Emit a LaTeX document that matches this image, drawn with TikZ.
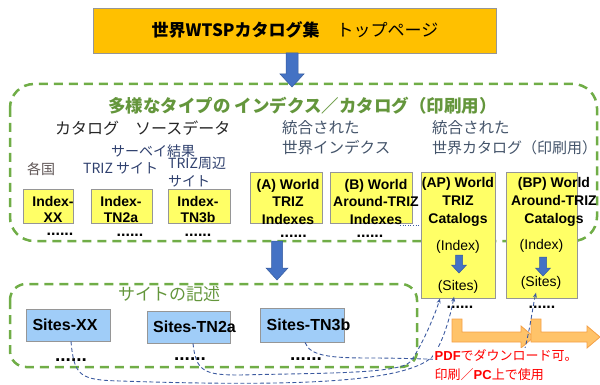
\documentclass[tikz,border=0pt]{standalone}
\usepackage{fontspec}
\setmainfont{Liberation Sans}
\newfontfamily\jp{Noto Sans CJK JP}
\usetikzlibrary{arrows.meta}
\definecolor{topor}{RGB}{255,192,0}
\definecolor{yellowc}{RGB}{255,255,102}
\definecolor{bluebox}{RGB}{160,205,248}
\definecolor{boxgray}{RGB}{150,150,150}
\definecolor{gframe}{RGB}{112,173,71}
\definecolor{gtext}{RGB}{100,150,60}
\definecolor{arrowblue}{RGB}{68,114,196}
\definecolor{linkblue}{RGB}{60,90,160}
\definecolor{navy}{RGB}{47,64,110}
\definecolor{slate}{RGB}{68,84,106}
\definecolor{graybr}{RGB}{95,85,85}
\definecolor{orfill}{RGB}{255,195,105}
\definecolor{ordraw}{RGB}{245,160,70}
\definecolor{redt}{RGB}{255,0,0}
\newcommand\blkarrow[6]{%
  \filldraw[fill=arrowblue, draw=arrowblue!80!black, line width=0.5pt]
  (#1-#4,#2) -- (#1+#4,#2) -- (#1+#4,#3-#6) -- (#1+#5,#3-#6) -- (#1,#3)
  -- (#1-#5,#3-#6) -- (#1-#4,#3-#6) -- cycle;}
\begin{document}
\begin{tikzpicture}[x=1pt,y=-1pt,
  jpf/.style={font={\jp\fontsize{#1}{#1}\selectfont}, inner sep=0pt},
  topbox/.style={draw=boxgray, fill=topor, line width=0.8pt, inner sep=0pt},
  ybox/.style={draw=boxgray, fill=yellowc, line width=0.8pt, inner sep=0pt},
  bbox/.style={draw=boxgray, fill=bluebox, line width=0.8pt, inner sep=0pt},
  btxt/.style={font={\bfseries\fontsize{14}{#1}\selectfont}, align=center, inner sep=0pt},
  stxt/.style={font={\bfseries\fontsize{16}{18}\selectfont}, inner sep=0pt},
  ntxt/.style={font={\fontsize{14}{16}\selectfont}, inner sep=0pt},
  dots/.style={font={\bfseries\fontsize{#1}{#1}\selectfont}, inner sep=0pt, anchor=base,
    text height=3pt, text depth=0pt},
  gdash/.style={draw=gframe, line width=2.5pt, dash pattern=on 9pt off 6pt},
  link/.style={draw=linkblue, line width=0.9pt, dash pattern=on 4pt off 2.5pt},
  linkarrow/.style={link, -{Stealth[length=5pt,width=4pt]}},
  orarrow/.style={fill=orfill, draw=ordraw, line width=0.8pt}
]
\useasboundingbox (0,0) rectangle (600,385);

% frames
\draw[gdash, rounded corners=24pt] (10,84) rectangle (597,241);
\draw[gdash, rounded corners=16pt] (10,284) rectangle (417,367);

% top box
\node[topbox, minimum width=403, minimum height=45] (top) at (294.5,30.5) {};
\node[jpf=17, anchor=base] (toptext) at (295,36.8) {\bfseries 世界WTSPカタログ集\mdseries　トップページ};

% block arrows
\blkarrow{292}{53}{87}{6}{12}{13}
\blkarrow{277}{241}{280}{5.5}{11}{12}

% headings
\node[jpf=17.5, anchor=base west, text=gtext] (h1) at (108,112.7) {\bfseries 多様なタイプの インデクス／カタログ（印刷用）};
\node[jpf=16, anchor=base west, text=black!85] (h2) at (55,134.6) {カタログ　ソースデータ};
\node[jpf=14, anchor=base west, text=navy] (h3) at (111,156.3) {サーベイ結果};
\node[jpf=14, anchor=base west, text=graybr] (h4) at (27,174.3) {各国};
\node[jpf=14, anchor=base west, text=navy] (h5) at (83,173.3) {TRIZ サイト};
\node[jpf=14, anchor=base west, text=navy] (h6) at (168,168.3) {TRIZ周辺};
\node[jpf=14, anchor=base west, text=navy] (h7) at (168,186.3) {サイト};
\node[jpf=15.5, anchor=base west, text=slate] (h8) at (282,134) {統合された};
\node[jpf=15.5, anchor=base west, text=slate] (h9) at (282,154) {世界インデクス};
\node[jpf=15.5, anchor=base west, text=slate] (h10) at (432,134) {統合された};
\node[jpf=15, anchor=base west, text=slate] (h11) at (432,153.7) {世界カタログ（印刷用）};
\node[jpf=17, anchor=base west, text=gtext] (h12) at (118,300.5) {サイトの記述};

% yellow boxes
\node[ybox, minimum width=50, minimum height=34] (ixx) at (48,206) {};
\node[btxt=15.5] (tixx) at (53,209.5) {Index-\\XX};
\node[ybox, minimum width=61, minimum height=34] (itn2a) at (121.5,206) {};
\node[btxt=15.5] (titn2a) at (121,209.5) {Index-\\TN2a};
\node[ybox, minimum width=62, minimum height=34] (itn3b) at (199,206) {};
\node[btxt=15.5] (titn3b) at (198,209.5) {Index-\\TN3b};
\node[ybox, minimum width=72, minimum height=51] (boxA) at (286,197.5) {};
\node[btxt=17.5] (tA) at (288,201.5) {(A) World\\TRIZ\\Indexes};
\node[ybox, minimum width=82, minimum height=51] (boxB) at (371,197.5) {};
\node[btxt=17.5] (tB) at (376,201.5) {(B) World\\Around-TRIZ\\Indexes};
\node[ybox, minimum width=74, minimum height=126] (boxAP) at (458,235) {};
\node[btxt=18] (tAP) at (458,202) {(AP) World\\TRIZ\\Catalogs};
\node[ntxt] (apidx) at (458,247) {(Index)};
\node[ntxt] (apsites) at (458,287) {(Sites)};
\blkarrow{459}{255}{273}{3.5}{7.5}{8}
\node[ybox, minimum width=71, minimum height=126] (boxBP) at (541.5,235) {};
\node[btxt=18] (tBP) at (554,202) {(BP) World\\Around-TRIZ\\Catalogs};
\node[ntxt] (bpidx) at (541.5,246) {(Index)};
\node[ntxt] (bpsites) at (541,283) {(Sites)};
\blkarrow{543}{257}{276}{3.5}{7.5}{8}

% dotted link B -> AP
\coordinate (bdot) at (400,225.5);
\draw[linkblue, line width=0.6pt, dotted] (bdot) -- (bdot -| boxAP.west);

% dots
\node[dots=16] (d1) at (60,235) {......};
\node[dots=16] (d2) at (130,236.5) {......};
\node[dots=16] (d3) at (198,236.5) {......};
\node[dots=16] (d4) at (293.5,237.5) {......};
\node[dots=16] (d5) at (370,237.5) {......};
\node[dots=16] (d6) at (460,308.5) {......};
\node[dots=16] (d7) at (542,308.5) {......};

% blue boxes
\node[bbox, minimum width=84, minimum height=32] (sxx) at (68,325) {};
\node[stxt] (tsxx) at (65,325) {Sites-XX};
\node[bbox, minimum width=83, minimum height=32] (stn2a) at (188.5,327) {};
\node[stxt] (tstn2a) at (194.5,327) {Sites-TN2a};
\node[bbox, minimum width=84, minimum height=34] (stn3b) at (302,325) {};
\node[stxt] (tstn3b) at (308.5,325) {Sites-TN3b};
\node[dots=19] (d8) at (71,361.5) {......};
\node[dots=19] (d9) at (190,360.5) {......};
\node[dots=19] (d10) at (306,360.5) {......};

% orange arrows
\filldraw[orarrow] (452,319) -- (462,319) -- (462,332) -- (521,332) -- (521,326) -- (534,337)
  -- (521,348) -- (521,342) -- (452,342) -- cycle;
\filldraw[orarrow] (531,319) -- (541,319) -- (541,332) -- (587,332) -- (587,326) -- (600,337)
  -- (587,348) -- (587,342) -- (531,342) -- cycle;

% dashed links
\draw[linkarrow] ([xshift=3pt]sxx.south) .. controls (74,376) and (80,380) .. (120,381)
  .. controls (300,387) and (405,382) .. (432,357)
  .. controls (442,345) and (450,318) .. ([xshift=-4pt,yshift=-3pt]apsites.south);
\draw[linkarrow] ([xshift=4.5pt]stn2a.south) .. controls (196,372) and (205,375) .. (240,375)
  .. controls (320,373) and (398,374) .. (410,362)
  .. controls (420,350) and (435,315) .. (boxAP.south west -| 440,0);
\draw[linkarrow] ([xshift=3pt]stn3b.south) .. controls (310,356) and (330,358) .. (370,358)
  .. controls (450,358) and (515,366) .. (524,352)
  .. controls (530,330) and (533,305) .. ([yshift=-3pt]bpsites.south -| 536,0);

% red note
\node[anchor=north west, text=redt, fill=white, inner sep=1.5pt, align=left,
  font={\jp\fontsize{13}{19}\selectfont}] (note) at (433,348)
  {{\rmfamily\bfseries PDF}でダウンロード可。\\印刷／{\rmfamily\bfseries PC}上で使用};
\end{tikzpicture}
\end{document}
